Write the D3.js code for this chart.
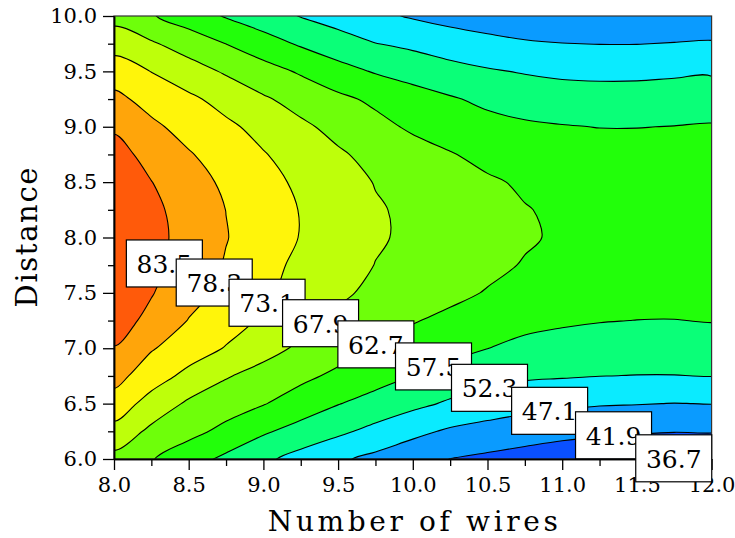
<!DOCTYPE html>
<html>
<head>
<meta charset="utf-8">
<script src="https://cdn.jsdelivr.net/npm/d3@7"></script>
<style>
  body { margin: 0; background: #fff; }
  svg { display: block; }
  text { font-family: "DejaVu Serif", serif; fill: #000; }
</style>
</head>
<body>
<svg width="735" height="538"></svg>
<script>
// grid columns (number of wires) and rows (distance, top row first)
const wires = [8.0, 8.25, 8.5, 8.75, 9.0, 9.25, 9.5, 9.75, 10.0, 10.25, 10.5, 10.75, 11.0, 11.25, 11.5, 11.75, 12.0];
const distances = [10.0, 9.75, 9.5, 9.25, 9.0, 8.75, 8.5, 8.25, 8.0, 7.75, 7.5, 7.25, 7.0, 6.75, 6.5, 6.25, 6.0];

// response, one row per distance
const response = [
  [66.0, 63.1, 60.1, 57.1, 54.6, 52.1, 50.1, 48.2, 46.6, 45.3, 44.4, 43.4, 42.9, 42.7, 42.7, 43.0, 43.4],
  [71.1, 68.5, 65.6, 62.65, 59.7, 56.9, 54.6, 52.4, 51.3, 49.8, 48.6, 47.7, 47.2, 47.0, 47.0, 47.3, 47.6],
  [75.7, 73.0, 70.1, 67.3, 64.7, 62.1, 59.3, 57.1, 55.3, 54.0, 52.8, 51.95, 51.3, 51.2, 51.2, 51.55, 51.75],
  [79.6, 76.5, 74.1, 71.3, 68.5, 66.1, 63.8, 61.7, 59.9, 58.0, 56.4, 55.4, 54.7, 54.3, 54.4, 54.6, 54.9],
  [82.8, 79.3, 76.5, 74.1, 71.5, 68.8, 66.5, 64.2, 61.9, 60.4, 59.1, 58.2, 57.75, 57.4, 57.4, 57.6, 57.9],
  [85.4, 81.8, 78.7, 76.0, 73.4, 70.9, 68.5, 66.5, 64.8, 63.0, 61.4, 60.2, 59.9, 59.5, 59.4, 59.5, 59.8],
  [87.2, 83.6, 80.4, 77.4, 74.7, 72.2, 69.9, 67.7, 66.3, 64.8, 63.3, 62.1, 61.2, 60.8, 60.6, 60.7, 61.2],
  [88.3, 84.7, 81.4, 78.25, 75.5, 72.9, 70.7, 68.35, 67.0, 65.7, 64.3, 62.9, 62.0, 61.55, 61.35, 61.45, 61.8],
  [88.7, 85.1, 81.7, 78.5, 75.7, 72.9, 70.8, 68.4, 67.1, 65.8, 64.5, 63.2, 62.1, 61.7, 61.5, 61.6, 61.9],
  [88.5, 84.7, 81.2, 77.9, 74.7, 72.0, 69.9, 67.8, 66.5, 65.1, 63.8, 62.4, 61.6, 61.1, 60.95, 61.05, 61.1],
  [87.5, 83.8, 80.2, 76.9, 73.95, 71.3, 68.7, 66.9, 65.4, 63.9, 62.4, 60.9, 60.25, 59.8, 59.5, 59.55, 59.8],
  [85.7, 82.2, 78.1, 75.3, 72.4, 69.5, 67.0, 65.0, 63.0, 61.6, 60.2, 58.9, 58.2, 57.7, 57.45, 57.4, 57.7],
  [83.3, 78.7, 75.7, 72.8, 69.8, 67.0, 64.7, 62.4, 60.8, 59.15, 57.55, 56.2, 55.5, 55.1, 54.8, 54.8, 55.0],
  [80.1, 75.5, 71.7, 68.3, 66.0, 63.8, 61.7, 59.5, 57.4, 55.5, 54.2, 53.0, 52.7, 52.35, 52.2, 52.2, 52.4],
  [76.1, 71.1, 67.1, 65.0, 62.96, 60.4, 57.7, 55.6, 53.6, 51.6, 50.1, 48.9, 48.2, 47.5, 47.3, 47.0, 47.2],
  [71.4, 66.8, 64.2, 61.4, 58.2, 55.6, 53.3, 50.9, 48.4, 46.4, 45.2, 44.2, 43.35, 42.8, 42.4, 42.1, 42.3],
  [66.3, 63.0, 59.7, 56.4, 53.3, 50.5, 47.9, 45.8, 43.8, 41.85, 40.9, 40.0, 39.1, 38.3, 37.5, 36.65, 35.9]
];

const levels = [36.7, 41.9, 47.1, 52.3, 57.5, 62.7, 67.9, 73.1, 78.3, 83.5];
// one colour below the first level, then one per level
const bandColors = ['#0a14ff', '#0a50ff', '#0a9bff', '#0aebff', '#0aff78', '#22ff0a',
                    '#6eff0a', '#beff0a', '#fff50a', '#ffa50a', '#ff5a0a'];

const xTicks = [8.0, 8.5, 9.0, 9.5, 10.0, 10.5, 11.0, 11.5, 12.0];
const xMinor = [8.25, 8.75, 9.25, 9.75, 10.25, 10.75, 11.25, 11.75];
const yTicks = [6.0, 6.5, 7.0, 7.5, 8.0, 8.5, 9.0, 9.5, 10.0];
const yMinor = [6.25, 6.75, 7.25, 7.75, 8.25, 8.75, 9.25, 9.75];

const svg = d3.select('svg');
const x = d3.scaleLinear().domain([8, 12]).range([114, 711.6]);
const y = d3.scaleLinear().domain([6, 10]).range([459, 16]);

const nx = wires.length, ny = distances.length;
const stepX = wires[1] - wires[0];
const stepY = distances[1] - distances[0];

let contours = d3.contours()
  .size([nx, ny])
  .thresholds(levels)(response.flat());

// grid coords -> pixels (d3 puts value i at i + 0.5)
let gridX = gx => x(wires[0] + (gx - 0.5) * stepX);
let gridY = gy => y(distances[0] + (gy - 0.5) * stepY);

// smooth the marching-squares rings a little so the noses are round
let ringLine = d3.line().curve(d3.curveCatmullRomClosed.alpha(0.5));
function contourPath(mp) {
  return mp.coordinates.map(polygon =>
    polygon.map(ring => ringLine(ring.slice(0, -1).map(p => [gridX(p[0]), gridY(p[1])]))).join('')
  ).join('');
}

svg.append('clipPath').attr('id', 'plot')
  .append('rect')
  .attr('x', x(8)).attr('y', y(10))
  .attr('width', x(12) - x(8)).attr('height', y(6) - y(10));

let plot = svg.append('g').attr('clip-path', 'url(#plot)');

plot.append('rect')
  .attr('x', x(8)).attr('y', y(10))
  .attr('width', x(12) - x(8)).attr('height', y(6) - y(10))
  .attr('fill', bandColors[0]);

plot.selectAll('path.band')
  .data(contours)
  .join('path')
  .attr('class', 'band')
  .attr('d', contourPath)
  .attr('fill', (d, i) => bandColors[i + 1]);

plot.selectAll('path.line')
  .data(contours)
  .join('path')
  .attr('class', 'line')
  .attr('d', contourPath)
  .attr('fill', 'none')
  .attr('stroke', '#000')
  .attr('stroke-width', 1.1);

// frame
svg.append('rect')
  .attr('x', x(8)).attr('y', y(10))
  .attr('width', x(12) - x(8)).attr('height', y(6) - y(10))
  .attr('fill', 'none')
  .attr('stroke', '#333')
  .attr('stroke-width', 1.2);

// axes
let fmt = d3.format('.1f');

svg.append('g').attr('transform', `translate(0,${y(6)})`)
  .call(d3.axisBottom(x).tickValues(xTicks).tickFormat(fmt).tickSize(11).tickSizeOuter(0).tickPadding(7));
svg.append('g').attr('transform', `translate(0,${y(6)})`)
  .call(d3.axisBottom(x).tickValues(xMinor).tickFormat('').tickSize(7).tickSizeOuter(0));

svg.append('g').attr('transform', `translate(${x(8)},0)`)
  .call(d3.axisLeft(y).tickValues(yTicks).tickFormat(fmt).tickSize(11).tickSizeOuter(0).tickPadding(6));
svg.append('g').attr('transform', `translate(${x(8)},0)`)
  .call(d3.axisLeft(y).tickValues(yMinor).tickFormat('').tickSize(6).tickSizeOuter(0));

svg.selectAll('.domain').attr('stroke', '#000').attr('stroke-width', 1.5);
svg.selectAll('.tick line').attr('stroke', '#000').attr('stroke-width', 1.3);
svg.selectAll('.tick text')
  .attr('font-family', '"DejaVu Serif", serif')
  .attr('font-size', 21)
  .attr('fill', '#000');

// axis titles
svg.append('text')
  .attr('x', (x(8) + x(12)) / 2)
  .attr('y', 531)
  .attr('text-anchor', 'middle')
  .attr('font-size', 28)
  .attr('textLength', 290)
  .attr('lengthAdjust', 'spacing')
  .text('Number of wires');

svg.append('text')
  .attr('transform', `translate(37,${(y(6) + y(10)) / 2}) rotate(-90)`)
  .attr('text-anchor', 'middle')
  .attr('font-size', 29)
  .attr('textLength', 140)
  .attr('lengthAdjust', 'spacing')
  .text('Distance');

// contour labels sit where each level crosses a straight guide line
function valueAt(xv, yv) {
  let fx = (xv - wires[0]) / stepX;
  let fy = (yv - distances[0]) / stepY;
  let i = Math.max(0, Math.min(nx - 2, Math.floor(fx)));
  let j = Math.max(0, Math.min(ny - 2, Math.floor(fy)));
  let tx = fx - i, ty = fy - j;
  return response[j][i] * (1 - tx) * (1 - ty) + response[j][i + 1] * tx * (1 - ty)
    + response[j + 1][i] * (1 - tx) * ty + response[j + 1][i + 1] * tx * ty;
}

const guideStart = [8.0, 7.935];
const guideEnd = [11.75, 6.0];
let samples = d3.range(0, 1.0001, 0.002).map(t => {
  let px = guideStart[0] + (guideEnd[0] - guideStart[0]) * t;
  let py = guideStart[1] + (guideEnd[1] - guideStart[1]) * t;
  return { x: px, y: py, v: valueAt(px, py) };
});

let labelPoints = levels.map(level => {
  for (let k = 1; k < samples.length; k++) {
    let a = samples[k - 1], b = samples[k];
    if ((a.v - level) * (b.v - level) <= 0) {
      let f = (a.v - level) / (a.v - b.v);
      return { level, x: a.x + (b.x - a.x) * f, y: a.y + (b.y - a.y) * f };
    }
  }
  let last = samples[samples.length - 1];
  return { level, x: last.x, y: last.y };
});

// highest level first so each later box overlaps the previous one
labelPoints.sort((a, b) => d3.descending(a.level, b.level));

let labels = svg.selectAll('g.label')
  .data(labelPoints)
  .join('g')
  .attr('class', 'label')
  .attr('transform', d => `translate(${x(d.x)},${y(d.y)})`);

labels.append('rect')
  .attr('x', -38).attr('y', -24)
  .attr('width', 76).attr('height', 47)
  .attr('fill', '#fff')
  .attr('stroke', '#000')
  .attr('stroke-width', 1.2);

labels.append('text')
  .attr('text-anchor', 'middle')
  .attr('dy', '0.36em')
  .attr('font-size', 25)
  .text(d => fmt(d.level));
</script>
</body>
</html>
